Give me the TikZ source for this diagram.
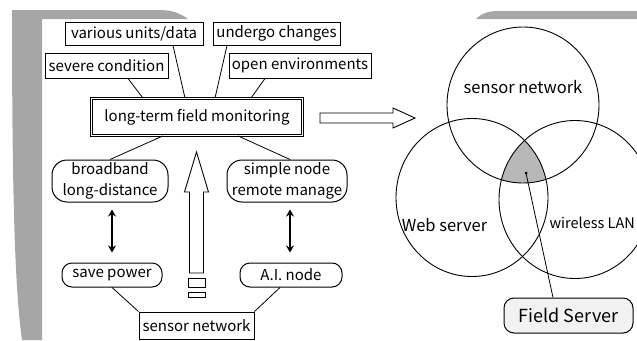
\documentclass[tikz,border=0pt]{standalone}
\usepackage{fontspec}
\setmainfont{Noto Sans CJK JP}
\usetikzlibrary{arrows.meta,calc}
\begin{document}
\begin{tikzpicture}[x=1pt,y=-1pt,
  lbl/.style={font=\fontsize{15}{21}\selectfont, text=black, inner sep=0pt},
  sqbox/.style={lbl, draw, line width=1pt, align=center},
  rbox/.style={lbl, draw, line width=1pt, align=center, rounded corners=15pt},
  pbox/.style={lbl, draw, line width=1pt, rounded corners=10pt},
  link/.style={line width=0.8pt},
  dbl/.style={line width=1.6pt, {Stealth[length=7pt,width=8pt]}-{Stealth[length=7pt,width=8pt]}},
  hollow/.style={draw, line width=0.9pt, fill=white, line join=miter},
  bggray/.style={fill=black!35, draw=none},
  venn/.style={line width=0.9pt},
  vlbl/.style={font=\fontsize{16.5}{20}\selectfont, text=black, inner sep=0pt}
]
\useasboundingbox (0,0) rectangle (637,340);
\clip (0,0) rectangle (637,340);

% background shapes
\fill[bggray] (12,10) -- (158,10) .. controls (172,10) and (180,13) .. (188,19) -- (42,19) -- (42,340) -- (22,340) .. controls (15,290) and (12,200) .. (12,10) -- cycle;
\fill[bggray] (476,19) .. controls (482,13) and (488,11) .. (500,11) -- (637,11) -- (637,19) -- cycle;

% top boxes
\node[sqbox, minimum width=138pt, minimum height=23pt] (units) at (134,33.5) {various units/data};
\node[sqbox, minimum width=127pt, minimum height=23pt] (changes) at (276.5,33.5) {undergo changes};
\node[sqbox, minimum width=123pt, minimum height=25pt] (severe) at (106.5,65.5) {severe condition};
\node[sqbox, minimum width=142pt, minimum height=25pt] (open) at (300,65.5) {open environments};
\node[lbl, draw, double, double distance=1.6pt, line width=0.8pt, minimum width=211pt, minimum height=37pt] (main) at (197,117) {long-term field monitoring};

\draw[link] ([xshift=21.5pt]severe.south) -- ([xshift=-54pt]main.north);
\draw[link] ([xshift=39pt]units.south) -- ([xshift=-12pt]main.north);
\draw[link] ([xshift=-49.5pt]changes.south) -- ([xshift=18pt]main.north);
\draw[link] ([xshift=-35pt]open.south) -- ([xshift=54pt]main.north);

% lower boxes
\node[rbox, minimum width=116pt, minimum height=42pt] (broad) at (110,181) {broadband\\long-distance};
\node[rbox, minimum width=120pt, minimum height=42pt] (simple) at (287,181) {simple node\\remote manage};
\node[pbox, minimum width=100pt, minimum height=24pt] (save) at (112,275) {save power};
\node[pbox, minimum width=102pt, minimum height=24pt] (ai) at (291,275) {A.I. node};
\node[sqbox, minimum width=115pt, minimum height=27pt] (sensor) at (196.5,325.5) {sensor network};

\draw[link] ([xshift=-34pt]main.south) -- (broad.north);
\draw[link] ([xshift=41pt]main.south) -- ([xshift=3pt]simple.north);
\draw[dbl] ([xshift=2pt,yshift=-7pt]broad.south) -- ([yshift=10pt]save.north);
\draw[dbl] ([xshift=3pt,yshift=-7pt]simple.south) -- ([xshift=-1pt,yshift=10pt]ai.north);
\draw[link] (save.south) -- (sensor.north west);
\draw[link] (sensor.north east) -- ([xshift=-11pt]ai.south);

% hollow arrows
\draw[hollow] (189.5,273) -- (189.5,192) -- (184.5,192) -- (196.5,152) -- (208.5,192) -- (203.5,192) -- (203.5,273) -- cycle;
\draw[hollow] (188.5,278) rectangle (205.5,287);
\draw[hollow] (188.5,292) rectangle (205.5,297);
\draw[hollow] (320,113) -- (393,113) -- (393,108) -- (415,118) -- (393,128) -- (393,123) -- (320,123) -- cycle;

% Venn diagram
\begin{scope}
  \clip (523,105) ellipse [x radius=76, y radius=78];
  \clip (472,197.5) ellipse [x radius=76, y radius=79];
  \fill[black!28] (575,199.5) ellipse [x radius=76, y radius=79];
\end{scope}
\draw[venn] (523,105) ellipse [x radius=76, y radius=78];
\draw[venn] (472,197.5) ellipse [x radius=76, y radius=79];
\draw[venn] (575,199.5) ellipse [x radius=76, y radius=79];

\node[vlbl] (vsn) at (523,87) {sensor network};
\node[vlbl] (vws) at (444.5,225) {Web server};
\node[vlbl, font=\fontsize{14.5}{18}\selectfont, anchor=east] (vwl) at (635,223) {wireless LAN};

\coordinate (fsdot) at (526,173);
\fill (fsdot) circle (1.5);
\node[pbox, fill=black!5, font=\fontsize{18}{22}\selectfont, minimum width=129pt, minimum height=35pt] (fs) at (568.5,315.5) {Field Server};
\draw[link] (fsdot) -- ([xshift=-15.5pt]fs.north);
\end{tikzpicture}
\end{document}
